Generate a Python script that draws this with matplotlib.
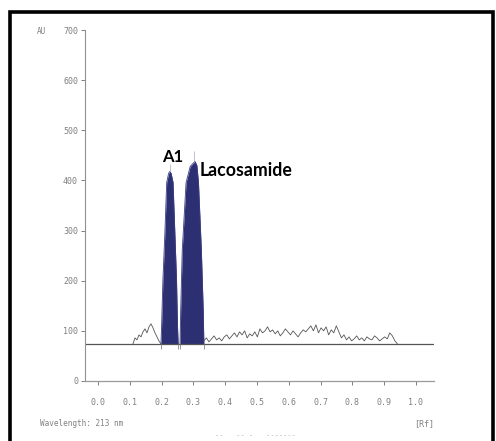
import numpy as np
import matplotlib
matplotlib.use("Agg")
import matplotlib.pyplot as plt
from matplotlib.patches import Rectangle

# densitogram values (Rf, AU)
baseline_au = 74
a1_rf = [0.198, 0.200, 0.204, 0.210, 0.216, 0.222, 0.226, 0.230, 0.236, 0.242, 0.247, 0.250, 0.252]
a1_au = [74, 110, 200, 290, 396, 414, 418, 414, 396, 290, 200, 110, 74]
lac_rf = [0.258, 0.260, 0.265, 0.277, 0.290, 0.305, 0.311, 0.316, 0.325, 0.331, 0.333]
lac_au = [74, 140, 262, 396, 428, 438, 430, 396, 262, 140, 74]
# peak start/end markers under the baseline
marker_rf = [0.198, 0.252, 0.258, 0.333]

left_noise_au = [74, 86, 82, 92, 88, 98, 104, 96, 108, 114, 106, 96, 88, 80, 74]
right_noise_au = [80, 86, 78, 84, 90, 82, 86, 80, 88, 92, 84, 90,
                  96, 88, 98, 92, 100, 86, 94, 90, 98, 88, 104, 96, 100,
                  108, 98, 102, 94, 100, 90, 96, 104, 98, 92, 100, 94, 88, 96, 102,
                  98, 104, 110, 100, 112, 96, 106, 100, 108, 92, 102, 96, 110, 98,
                  86, 92, 82, 88, 80, 84, 90, 82, 86, 80, 88, 84, 82, 90, 86, 80, 84,
                  88, 84, 96, 90, 80, 74]
left_noise_rf = np.linspace(0.110, 0.198, len(left_noise_au))
right_noise_rf = np.linspace(0.333, 0.942, len(right_noise_au))

y_ticks = [0, 100, 200, 300, 400, 500, 600, 700]
x_ticks = [0.0, 0.1, 0.2, 0.3, 0.4, 0.5, 0.6, 0.7, 0.8, 0.9, 1.0]
x_labels = ["0.0", "0.1", "0.2", "0.3", "0.4", "0.5", "0.6", "0.7", "0.8", "0.9", "1.0"]

W, H = 496, 441
fig = plt.figure(figsize=(W / 100, H / 100), dpi=100)
ax = fig.add_axes([85 / W, 1 - 381 / H, (434 - 85) / W, (381 - 30) / H])
ax.set_xlim(-0.041, 1.057)
ax.set_ylim(0, 700)

grey = "#808080"
for s in ["top", "right"]:
    ax.spines[s].set_visible(False)
ax.spines["left"].set_color("#909090")
ax.spines["bottom"].set_color("#9a9a9a")
ax.spines["left"].set_linewidth(0.8)
ax.spines["bottom"].set_linewidth(0.9)

ax.set_yticks(y_ticks)
ax.set_yticklabels([str(v) for v in y_ticks])
ax.set_xticks(x_ticks)
ax.set_xticklabels(x_labels)
ax.tick_params(axis="y", direction="out", length=3, width=0.7, color=grey, pad=2,
               labelsize=6, labelcolor=grey)
ax.tick_params(axis="x", direction="out", length=3, width=0.7, color=grey, pad=9,
               labelsize=6, labelcolor=grey)
for lab in ax.get_xticklabels() + ax.get_yticklabels():
    lab.set_family("DejaVu Sans Mono")

navy = "#2c3073"
ax.fill_between(a1_rf, baseline_au, a1_au, color=navy, lw=0)
ax.fill_between(lac_rf, baseline_au, lac_au, color=navy, lw=0)
ax.plot(a1_rf, a1_au, color="#3a3e80", lw=0.6)
ax.plot(lac_rf, lac_au, color="#3a3e80", lw=0.6)
# faint apex marks
ax.vlines([0.226, 0.302], [418, 438], [432, 458], color="#b8b8c8", lw=0.6)

ax.plot(left_noise_rf, left_noise_au, color="#555555", lw=0.6)
ax.plot(right_noise_rf, right_noise_au, color="#555555", lw=0.6)
ax.axhline(baseline_au, color="#555555", lw=0.9)
ax.vlines(marker_rf, baseline_au - 10, baseline_au, color="#888888", lw=0.6)

ax.text(0.236, 436, "A1", fontsize=12, fontweight="bold", family="Lato",
        ha="center", va="baseline", color="black")
ax.text(0.321, 408, "Lacosamide", fontsize=12.8, fontweight="bold", family="Lato",
        ha="left", va="baseline", color="black")

fig.text(37 / W, 1 - 31 / H, "AU", fontsize=5.5, family="DejaVu Sans Mono",
         color=grey, ha="left", va="center")
fig.text(40 / W, 1 - 424 / H, "Wavelength: 213 nm", fontsize=5.5,
         family="DejaVu Sans Mono", color=grey, ha="left", va="center")
fig.text(414 / W, 1 - 424 / H, "[Rf]", fontsize=6, family="DejaVu Sans Mono",
         color=grey, ha="left", va="center")
fig.text(215 / W, 1 - 435 / H, "--   -- -   -------", fontsize=5,
         family="DejaVu Sans Mono", color="#b0b0b0", ha="left", va="center")

fig.patches.append(Rectangle((9.5 / W, -0.05), (493 - 9.5) / W, 1.05 - 11.5 / H,
                             transform=fig.transFigure, fill=False,
                             edgecolor="black", lw=2.6))

fig.savefig("out.png", dpi=100)
